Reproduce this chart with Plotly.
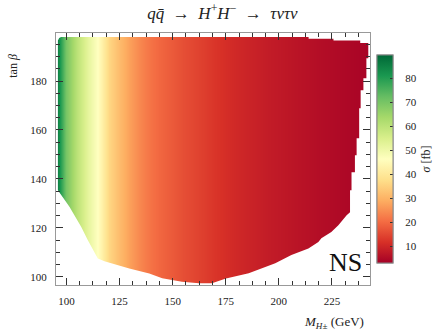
import plotly.graph_objects as go

# cross-section (fb) versus charged Higgs mass
mass_nodes = [95, 100, 105, 110, 115, 120, 125, 130, 135, 140, 145, 150, 155, 160, 165, 170,
              175, 180, 185, 190, 195, 200, 205, 210, 215, 220, 225, 230, 235, 240, 245]
sigma_fb = [88, 70, 60, 52, 46, 36, 31, 27, 23.5, 21, 19, 17.5, 16, 14.8, 13.5, 12.3,
            11.2, 10.3, 9.5, 8.8, 8.1, 7.5, 7.0, 6.4, 5.9, 5.4, 5.0, 4.6, 4.2, 3.8, 3.5]
tanb_rows = [95, 201]

# allowed-region outline (M, tan beta), clockwise from the top-left corner
top_M = [96.0, 96.6, 97.5, 214.0, 214.0, 225.7, 225.7, 238.3, 238.3, 242.1]
top_t = [196.5, 197.6, 198.0, 198.0, 197.3, 197.3, 196.5, 196.5, 195.5, 195.5]
right_M = [242.1, 241.2, 241.2, 239.8, 239.8, 238.5, 238.5, 237.8, 237.8, 236.6, 236.6,
           235.8, 235.8, 234.2, 234.2, 233.5, 233.5]
right_t = [189.3, 189.3, 181.1, 181.1, 176.2, 176.2, 168.9, 168.9, 156.6, 156.6, 149.7,
           149.7, 142.7, 142.7, 135.4, 135.4, 126.4]
bottom_M = [231.9, 228.0, 224.7, 220.0, 218.6, 213.9, 205.9, 198.3, 185.8, 175.1, 168.5,
            162.4, 154.4, 145.1, 139.0, 129.6, 117.9, 114.8, 110.1, 107.0, 101.5, 96.0]
bottom_t = [125.2, 121.1, 118.3, 115.8, 114.3, 111.6, 108.9, 105.6, 101.5, 99.4, 97.4,
            97.4, 98.0, 99.5, 101.4, 103.4, 106.4, 107.5, 115.0, 120.4, 128.6, 135.4]

x_range = [95.1, 242.9]
y_range = [96.7, 199.6]
x_ticks = [100, 125, 150, 175, 200, 225]
y_ticks = [100, 120, 140, 160, 180]
cbar_ticks = [10, 20, 30, 40, 50, 60, 70, 80]

FONT = "Liberation Serif"
EN = "\u2002"

cbar_geom = dict(x=1.021, xanchor="left", xpad=0, y=0.5, yanchor="middle",
                 len=0.825, ypad=0, thickness=16, outlinewidth=1, outlinecolor="#888",
                 tickvals=cbar_ticks)

fig = go.Figure()
# labelled colour bar (transparent outside ticks push the labels away from the bar)
fig.add_trace(go.Heatmap(
    x=mass_nodes, y=tanb_rows, z=[sigma_fb, sigma_fb],
    zsmooth="best", colorscale="RdYlGn", zmin=3.0, zmax=89.7,
    colorbar=dict(
        **cbar_geom, ticks="outside", ticklen=10, tickcolor="rgba(0,0,0,0)",
        tickfont=dict(family=FONT, size=11, color="#222"),
        title=dict(text="<i>σ</i> [fb]", side="right",
                   font=dict(family=FONT, size=12, color="#222")),
    ),
    hoverinfo="skip",
))
# same map again, its colour bar carries the inside tick marks
fig.add_trace(go.Heatmap(
    x=mass_nodes, y=tanb_rows, z=[sigma_fb, sigma_fb],
    zsmooth="best", colorscale="RdYlGn", zmin=3.0, zmax=89.7,
    colorbar=dict(**cbar_geom, ticks="inside", ticklen=3, tickcolor="#333",
                  showticklabels=False),
    hoverinfo="skip",
))

# white mask outside the allowed region (outer box + region as a keyhole)
ox0, ox1, oy0, oy1 = 85, 255, 85, 210
region_M = top_M + right_M + bottom_M + [top_M[0]]
region_t = top_t + right_t + bottom_t + [top_t[0]]
mask_M = [ox0, ox0, ox1, ox1, ox0, top_M[0]] + region_M + [ox0]
mask_t = [oy1, oy0, oy0, oy1, oy1, top_t[0]] + region_t + [oy1]
fig.add_trace(go.Scatter(
    x=mask_M, y=mask_t, mode="lines", fill="toself",
    fillcolor="white", line=dict(width=0, color="white"),
    hoverinfo="skip", showlegend=False,
))

axis_common = dict(
    showline=True, linecolor="#999", linewidth=1.2, mirror="allticks",
    ticks="inside", tickcolor="#333", tickwidth=1, ticklen=7,
    showgrid=False, zeroline=False, automargin=False,
    tickfont=dict(family=FONT, size=11, color="#222"),
)
fig.update_xaxes(range=x_range, tickvals=x_ticks, ticklabelstandoff=6,
                 minor=dict(dtick=6.25, tick0=100, ticks="inside", ticklen=3.5,
                            tickcolor="#333", showgrid=False),
                 **axis_common)
fig.update_yaxes(range=y_range, tickvals=y_ticks, ticklabelstandoff=6,
                 minor=dict(dtick=5, tick0=100, ticks="inside", ticklen=3.5,
                            tickcolor="#333", showgrid=False),
                 **axis_common)

title_text = ("<i>q</i><i>q̄</i>" + EN + "→" + EN + "<i>H</i><sup>+</sup><i>H</i><sup>−</sup>"
              + EN + "→" + EN + "<i>τντν</i>")

fig.update_layout(
    width=445, height=336,
    margin=dict(l=56, r=73, t=33, b=51),
    paper_bgcolor="white", plot_bgcolor="white",
    showlegend=False,
    title=dict(text=title_text,
               x=0.5, xref="container", xanchor="center", y=0.962, yanchor="middle",
               font=dict(family=FONT, size=17, color="#222")),
    annotations=[
        dict(text="<i>M</i><sub><i>H</i>±</sub> (GeV)", xref="paper", yref="paper",
             x=0.986, y=-0.147, xanchor="right", yanchor="middle", showarrow=False,
             font=dict(family=FONT, size=13, color="#222")),
        dict(text="tan <i>β</i>", xref="paper", yref="paper", textangle=-90,
             x=-0.137, y=0.87, xanchor="center", yanchor="middle", showarrow=False,
             font=dict(family=FONT, size=12, color="#222")),
        dict(text="NS", xref="paper", yref="paper",
             x=0.921, y=0.089, xanchor="center", yanchor="middle", showarrow=False,
             font=dict(family=FONT, size=26, color="#111")),
    ],
)

fig.write_html("out.html", config={"displayModeBar": False},
               post_script="document.body.style.margin='0';")
